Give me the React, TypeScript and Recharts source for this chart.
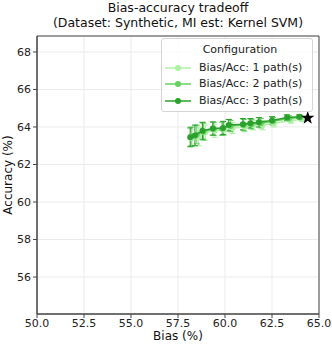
import {
  CartesianGrid,
  ErrorBar,
  ReferenceArea,
  Scatter,
  ScatterChart,
  XAxis,
  YAxis,
} from "recharts";

const biasTicks = [50, 52.5, 55, 57.5, 60, 62.5, 65];
const accTicks = [56, 58, 60, 62, 64, 66, 68];

// 1 path
const bias1 = [58.25, 58.6, 58.95, 59.45, 59.95, 60.4, 61.05, 61.5, 62.0, 62.6, 63.5, 64.1];
const acc1 = [63.4, 63.5, 63.7, 63.8, 63.85, 63.95, 64.0, 64.1, 64.1, 64.2, 64.35, 64.4];
const err1 = [0.45, 0.5, 0.4, 0.35, 0.3, 0.3, 0.25, 0.25, 0.25, 0.2, 0.15, 0.1];

// 2 paths
const bias2 = [58.2, 58.5, 58.85, 59.4, 59.85, 60.3, 61.0, 61.4, 61.9, 62.55, 63.4, 64.0];
const acc2 = [63.5, 63.6, 63.75, 63.9, 63.9, 64.05, 64.1, 64.15, 64.2, 64.3, 64.45, 64.5];
const err2 = [0.5, 0.5, 0.45, 0.35, 0.35, 0.3, 0.3, 0.25, 0.25, 0.2, 0.15, 0.1];

// 3 paths
const bias3 = [58.15, 58.4, 58.8, 59.35, 59.9, 60.2, 60.95, 61.35, 61.8, 62.5, 63.3, 63.95];
const acc3 = [63.45, 63.55, 63.8, 63.92, 63.95, 64.1, 64.15, 64.2, 64.25, 64.35, 64.5, 64.55];
const err3 = [0.5, 0.55, 0.45, 0.35, 0.35, 0.3, 0.3, 0.25, 0.25, 0.2, 0.15, 0.1];

const bestBias = [64.4];
const bestAcc = [64.48];

const seriesNames = ["Bias/Acc: 1 path(s)", "Bias/Acc: 2 path(s)", "Bias/Acc: 3 path(s)"];
const seriesColors = ["#aef0a6", "#66cf62", "#2ca02c"];

const toRows = (xs: number[], ys: number[], es?: number[]) =>
  xs.map((x, i) => ({ x, y: ys[i], err: es ? es[i] : 0 }));

const series = [
  toRows(bias1, acc1, err1),
  toRows(bias2, acc2, err2),
  toRows(bias3, acc3, err3),
];
const best = toRows(bestBias, bestAcc);

const font = "'DejaVu Sans', sans-serif";

function StarShape(props: any) {
  const { cx, cy } = props;
  const outer = 7;
  const inner = 2.8;
  const pts: string[] = [];
  for (let i = 0; i < 10; i++) {
    const r = i % 2 === 0 ? outer : inner;
    const a = -Math.PI / 2 + (i * Math.PI) / 5;
    pts.push(`${cx + r * Math.cos(a)},${cy + r * Math.sin(a)}`);
  }
  return <polygon points={pts.join(" ")} fill="#000" />;
}

function Dot(color: string) {
  return (props: any) => <circle cx={props.cx} cy={props.cy} r={3} fill={color} />;
}

function LegendBox() {
  return (
    <div
      style={{
        position: "absolute",
        top: 38,
        left: 161,
        width: 152,
        boxSizing: "border-box",
        fontFamily: font,
        fontSize: 11,
        color: "#222",
        background: "rgba(255,255,255,0.8)",
        border: "1px solid #d5d5d5",
        borderRadius: 3,
        padding: "3px 4px 2px 2px",
        lineHeight: "16.5px",
      }}
    >
      <div style={{ textAlign: "center", paddingLeft: 8, marginBottom: 1 }}>Configuration</div>
      {seriesNames.map((name, i) => (
        <div key={name} style={{ display: "flex", alignItems: "center" }}>
          <svg width={28} height={10} style={{ marginRight: 7 }}>
            <line x1={1} y1={5} x2={27} y2={5} stroke={seriesColors[i]} strokeWidth={1.5} />
            <circle cx={14} cy={5} r={3} fill={seriesColors[i]} />
          </svg>
          <span>{name}</span>
        </div>
      ))}
    </div>
  );
}

export default function App() {
  return (
    <div style={{ position: "absolute", left: 0, top: 0, width: 332, height: 347, background: "#fff" }}>
      <div
        style={{
          position: "absolute",
          left: 37,
          width: 282,
          top: 0,
          textAlign: "center",
          fontFamily: font,
          fontSize: 12.5,
          lineHeight: "15px",
          color: "#111",
        }}
      >
        Bias-accuracy tradeoff
        <br />
        (Dataset: Synthetic, MI est: Kernel SVM)
      </div>
      <ScatterChart
        width={332}
        height={347}
        margin={{ top: 36, right: 13, bottom: 0, left: 0 }}
      >
        <CartesianGrid stroke="#ebebeb" strokeWidth={1} />
        <XAxis
          type="number"
          dataKey="x"
          domain={[50, 65]}
          ticks={biasTicks}
          interval={0}
          allowDataOverflow
          tickFormatter={(v: number) => v.toFixed(1)}
          height={33}
          tickSize={4}
          tickMargin={1}
          tick={{ fill: "#222", fontSize: 11, fontFamily: font }}
          tickLine={{ stroke: "#444" }}
          axisLine={{ stroke: "#444" }}
        />
        <YAxis
          type="number"
          dataKey="y"
          domain={[54.03, 68.85]}
          ticks={accTicks}
          interval={0}
          allowDataOverflow
          width={37}
          tickSize={4}
          tick={{ fill: "#222", fontSize: 11, fontFamily: font }}
          tickLine={{ stroke: "#444" }}
          axisLine={{ stroke: "#444" }}
        />
        <ReferenceArea
          x1={50}
          x2={65}
          y1={54.03}
          y2={68.85}
          fill="none"
          stroke="#444"
          strokeWidth={1}
        />
        {series.map((rows, i) => (
          <Scatter
            key={seriesNames[i]}
            name={seriesNames[i]}
            data={rows}
            line={{ stroke: seriesColors[i], strokeWidth: 1.5 }}
            shape={Dot(seriesColors[i])}
            isAnimationActive={false}
          >
            <ErrorBar dataKey="err" direction="y" width={3} stroke={seriesColors[i]} strokeWidth={1.1} />
          </Scatter>
        ))}
        <Scatter data={best} shape={StarShape} isAnimationActive={false} legendType="none" />
      </ScatterChart>
      <LegendBox />
      <div
        style={{
          position: "absolute",
          left: 37,
          width: 282,
          top: 330,
          textAlign: "center",
          fontFamily: font,
          fontSize: 12,
          lineHeight: "13px",
          color: "#111",
        }}
      >
        Bias (%)
      </div>
      <div
        style={{
          position: "absolute",
          left: 8,
          top: 175,
          transform: "translate(-50%, -50%) rotate(-90deg)",
          whiteSpace: "nowrap",
          fontFamily: font,
          fontSize: 12,
          color: "#111",
        }}
      >
        Accuracy (%)
      </div>
    </div>
  );
}
